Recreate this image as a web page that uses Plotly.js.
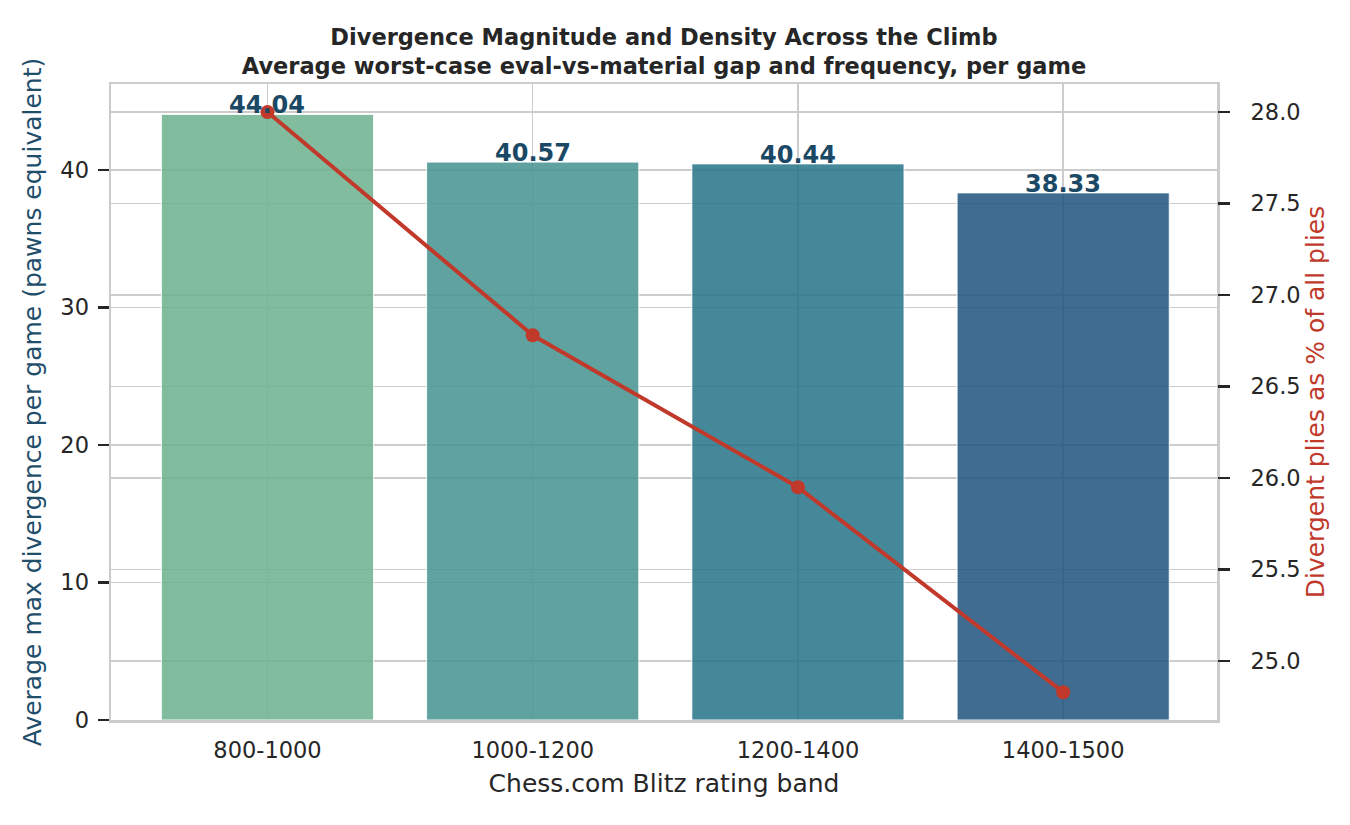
<!DOCTYPE html>
<html>
<head>
<meta charset="utf-8">
<script src="https://cdn.plot.ly/plotly-3.0.1.min.js"></script>
<style>html,body{margin:0;padding:0;background:#fff;}#chart{width:1350px;height:825px;}</style>
</head>
<body>
<div id="chart"></div>
<script>
const bands = ["800-1000", "1000-1200", "1200-1400", "1400-1500"];
const avgMaxDivergence = [44.04, 40.57, 40.44, 38.33];
const divergentPct = [28.0, 26.78, 25.95, 24.83];
const barLabels = ["44.04", "40.57", "40.44", "38.33"];
const barColors = ["rgba(108,176,142,0.85)", "rgba(67,146,142,0.85)", "rgba(36,115,135,0.85)", "rgba(31,82,126,0.85)"];
const leftTicks = [0, 10, 20, 30, 40];
const rightTicks = [25.0, 25.5, 26.0, 26.5, 27.0, 27.5, 28.0];
const rightTickText = ["25.0", "25.5", "26.0", "26.5", "27.0", "27.5", "28.0"];

const font = "DejaVu Sans, Liberation Sans, sans-serif";

const bar = {
  type: "bar", x: bands, y: avgMaxDivergence,
  marker: {color: barColors, line: {color: "rgba(255,255,255,0.9)", width: 1}},
  width: 0.8, yaxis: "y", hoverinfo: "skip"
};
const line = {
  type: "scatter", mode: "lines+markers", x: bands, y: divergentPct,
  line: {color: "#c0392b", width: 4},
  marker: {color: "#c0392b", size: 14},
  yaxis: "y2", cliponaxis: false
};

const annotations = bands.map((b, i) => ({
  x: b, y: avgMaxDivergence[i], xref: "x", yref: "y",
  text: "<b>" + barLabels[i] + "</b>", showarrow: false,
  yanchor: "middle", xanchor: "center", yshift: 9,
  font: {family: font, size: 24, color: "#1b4965"}
}));

const layout = {
  width: 1350, height: 825,
  margin: {l: 111, r: 133, t: 84, b: 105},
  paper_bgcolor: "#ffffff", plot_bgcolor: "#ffffff",
  showlegend: false,
  bargap: 0.2,
  font: {family: font, color: "#262626"},
  annotations: annotations,
  title: {
    text: "<b>Divergence Magnitude and Density Across the Climb<br>Average worst-case eval-vs-material gap and frequency, per game</b>",
    font: {family: font, size: 22.5, color: "#262626"},
    x: 0.5, xref: "paper", xanchor: "center", yref: "container", y: 1 - 45/825, yanchor: "middle"
  },
  xaxis: {
    type: "category", range: [-0.59, 3.58],
    showgrid: true, gridcolor: "#cccccc", gridwidth: 1.5,
    showline: true, linecolor: "#cccccc", linewidth: 2.5, mirror: true,
    ticks: "", ticklabelstandoff: 8, tickfont: {family: font, size: 22.5, color: "#262626"},
    title: {text: "Chess.com Blitz rating band", font: {family: font, size: 25, color: "#262626"}, standoff: 13},
    zeroline: false
  },
  yaxis: {
    range: [0, 46.25], tickvals: leftTicks,
    showgrid: true, gridcolor: "#cccccc", gridwidth: 1.5,
    showline: true, linecolor: "#cccccc", linewidth: 2.5, mirror: true,
    ticks: "outside", ticklen: 11, tickwidth: 2.5, tickcolor: "#262626", ticklabelstandoff: 4,
    tickfont: {family: font, size: 22.5, color: "#262626"},
    title: {text: "Average max divergence per game (pawns equivalent)", font: {family: font, size: 25, color: "#1f4e6b"}, standoff: 12},
    zeroline: false
  },
  yaxis2: {
    overlaying: "y", side: "right", anchor: "x", range: [24.678, 28.153],
    tickvals: rightTicks, ticktext: rightTickText,
    showgrid: true, gridcolor: "#cccccc", gridwidth: 1.5,
    showline: false,
    ticks: "outside", ticklen: 12, tickwidth: 2.5, tickcolor: "#262626", ticklabelstandoff: 16,
    tickfont: {family: font, size: 22.5, color: "#262626"},
    title: {text: "Divergent plies as % of all plies", font: {family: font, size: 25, color: "#c0392b"}, standoff: 0},
    zeroline: false
  }
};

Plotly.newPlot("chart", [bar, line], layout, {displayModeBar: false, staticPlot: true});
</script>
</body>
</html>
